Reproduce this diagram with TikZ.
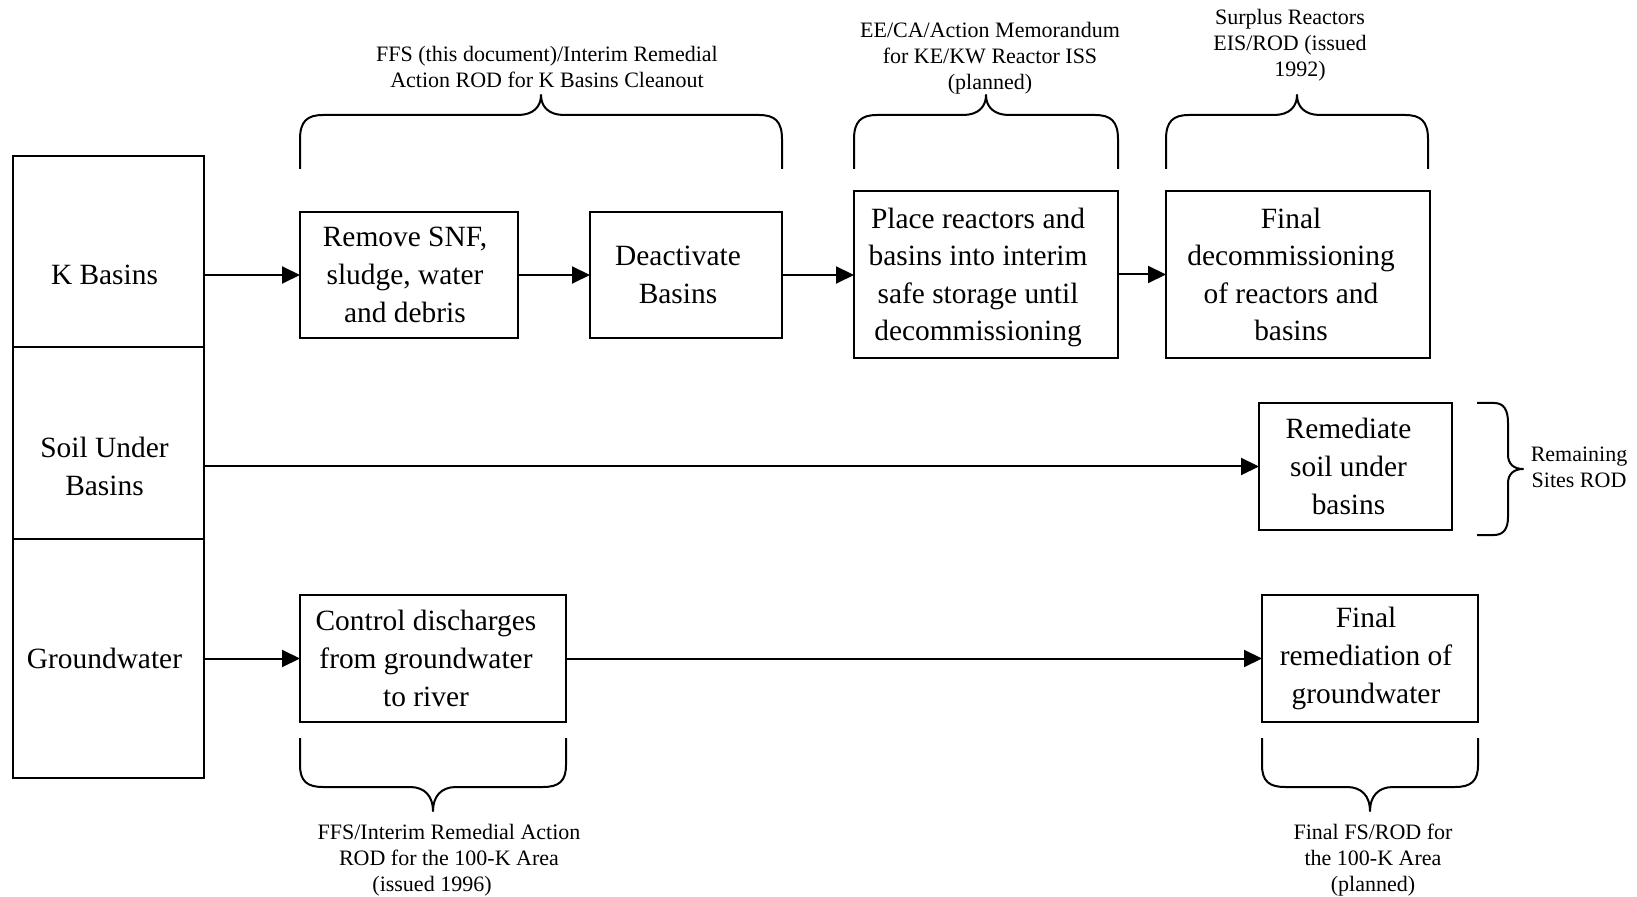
\documentclass[tikz,border=0pt]{standalone}
\usepackage{fontspec}
\setmainfont{Liberation Serif}
\usetikzlibrary{arrows.meta}

% Curly brace lying on its side: #1 left x, #2 right x,
% #3 y where the legs end, #4 y of the bar, #5 y of the tip
\newcommand\drawhbrace[5]{%
  \draw[bracestyle] (#1,#3) -- (#1,{#4+0.45*(#3-#4)})
    .. controls (#1,{#4+0.12*(#3-#4)}) and ({#1+7},#4) .. ({#1+23},#4)
    -- ({0.5*(#1+#2)-23},#4)
    .. controls ({0.5*(#1+#2)-8},#4) and ({0.5*(#1+#2)},{#4+0.4*(#5-#4)}) .. ({0.5*(#1+#2)},#5)
    .. controls ({0.5*(#1+#2)},{#4+0.4*(#5-#4)}) and ({0.5*(#1+#2)+8},#4) .. ({0.5*(#1+#2)+23},#4)
    -- ({#2-23},#4)
    .. controls ({#2-7},#4) and (#2,{#4+0.12*(#3-#4)}) .. (#2,{#4+0.45*(#3-#4)})
    -- (#2,#3);}

\begin{document}
\begin{tikzpicture}[x=0.5pt,y=-0.5pt,
  every node/.style={inner sep=0pt, outer sep=0pt},
  cell/.style={draw, line width=1.2pt, minimum width=95.5pt},
  procbox/.style={draw, line width=1.2pt},
  boxtext/.style={align=center, font=\fontsize{14.7}{18.8}\selectfont},
  note/.style={align=center, font=\fontsize{11}{13}\selectfont},
  flow/.style={line width=1pt, -{Triangle[length=9pt,width=8.5pt]}},
  bracestyle/.style={line width=1pt, line join=round}
]
\useasboundingbox (0,0) rectangle (1637,897);

% left column of areas
\node[cell, minimum height=95.5pt] (kcell) at (108.5,251.5) {};
\node[cell, minimum height=96pt] (soilcell) at (108.5,443) {};
\node[cell, minimum height=119.5pt] (gwcell) at (108.5,658.5) {};
\node[boxtext] (ktext) at (104.5,275) {K Basins};
\node[boxtext] (stext) at (104.5,466.5) {Soil Under\\Basins};
\node[boxtext] (gtext) at (104.5,658.5) {Groundwater};

% actions: frames
\node[procbox, minimum width=109pt, minimum height=63pt] (remove) at (409,275) {};
\node[procbox, minimum width=96pt, minimum height=63pt] (deact) at (686,275) {};
\node[procbox, minimum width=132pt, minimum height=83.5pt] (place) at (986,274.5) {};
\node[procbox, minimum width=132pt, minimum height=83.5pt] (finaldec) at (1298,274.5) {};
\node[procbox, minimum width=96.5pt, minimum height=63.5pt] (soilbox) at (1355.5,466.5) {};
\node[procbox, minimum width=133pt, minimum height=63.5pt] (control) at (433,658.5) {};
\node[procbox, minimum width=108pt, minimum height=63.5pt] (finalgw) at (1370,658.5) {};

% actions: texts
\node[boxtext] (removetxt) at ([xshift=-2pt]remove.center) {Remove SNF,\\sludge, water\\and debris};
\node[boxtext] (deacttxt) at ([xshift=-4pt]deact.center) {Deactivate\\Basins};
\node[boxtext] (placetxt) at ([xshift=-4pt,yshift=-1.5pt]place.center)
  {Place reactors and\\basins into interim\\safe storage until\\decommissioning};
\node[boxtext] (finaldectxt) at ([xshift=-3.5pt]finaldec.center)
  {Final\\decommissioning\\of reactors and\\basins};
\node[boxtext] (soiltxt) at ([xshift=-3.5pt]soilbox.center) {Remediate\\soil under\\basins};
\node[boxtext] (controltxt) at ([xshift=-3.5pt]control.center) {Control discharges\\from groundwater\\to river};
\node[boxtext] (finalgwtxt) at ([xshift=-2pt]finalgw.center) {Final\\remediation of\\groundwater};

% flow arrows
\draw[flow] (kcell.east |- remove.west) -- (remove.west);
\draw[flow] (remove.east) -- (deact.west);
\draw[flow] (deact.east) -- (place.west |- deact.east);
\draw[flow] (place.east) -- (finaldec.west);
\draw[flow] (soilcell.east |- soilbox.west) -- (soilbox.west);
\draw[flow] (gwcell.east |- control.west) -- (control.west);
\draw[flow] (control.east) -- (finalgw.west);

% decision document braces
\drawhbrace{300}{782}{169}{115}{95}
\drawhbrace{854}{1118}{169}{115}{95}
\drawhbrace{1166}{1428}{169}{115}{95}
\drawhbrace{300}{566}{738}{787}{811}
\drawhbrace{1262}{1478}{738}{787}{811}
\draw[bracestyle] (1477,403) -- (1494,403)
  .. controls (1504,403) and (1508,410) .. (1508,423) -- (1508,455)
  .. controls (1508,464) and (1514,469) .. (1523,469)
  .. controls (1514,469) and (1508,474) .. (1508,483) -- (1508,517)
  .. controls (1508,528) and (1504,535) .. (1494,535) -- (1477,535);

% decision documents
\node[note] (lab1) at (547,67) {FFS (this document)/Interim Remedial\\Action ROD for K Basins Cleanout};
\node[note] (lab2) at (990,58) {EE/CA/Action Memorandum\\for KE/KW Reactor ISS\\(planned)};
\node[note] (lab3) at (1290,45) {Surplus Reactors\\EIS/ROD (issued\\\hspace*{10pt}1992)};
\node[note] (lab4) at (1579,467) {Remaining\\Sites ROD};
\node[note] (lab5) at (449,860) {FFS/Interim Remedial Action\\ROD for the 100-K Area\\(issued 1996)\hspace*{17pt}};
\node[note] (lab6) at (1373,860) {Final FS/ROD for\\the 100-K Area\\(planned)};
\end{tikzpicture}
\end{document}
